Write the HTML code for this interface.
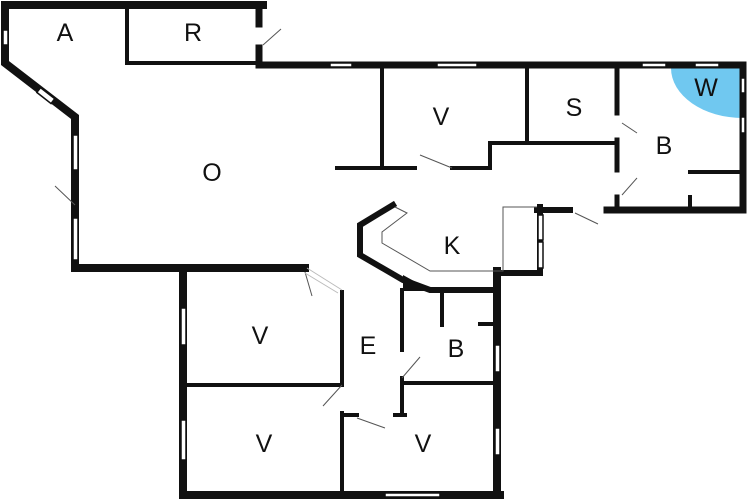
<!DOCTYPE html>
<html><head><style>body{margin:0;background:#fff}svg{display:block}text{font-family:"Liberation Sans",sans-serif;font-size:25px;fill:#111;text-anchor:middle;dominant-baseline:central}</style></head><body>
<svg width="750" height="500" viewBox="0 0 750 500">
<rect width="750" height="500" fill="#fff"/>
<path d="M743,68 L671,68 A72,50 0 0 0 743,118 Z" fill="#70c8f0"/>
<g stroke="#111" fill="none" stroke-linecap="square">
<path d="M5,5 L263,5 M5,5 L5,63 L75,117 L75,268 L305,268 M183,268 L183,495 L500,495 M497,271 L497,495" stroke-width="8"/>
<path d="M259,5 L259,24 M259,48 L259,65 L743,65 M743,65 L743,210 L607,210" stroke-width="7"/>
<path d="M127,5 L127,63 L259,63" stroke-width="4"/>
<path d="M617,68 L617,113 M617,140 L617,170 M617,197 L617,210" stroke-width="5"/>
<path d="M527,65 L527,143 L490,143 L490,168 L452,168 M415,168 L337,168 M382,65 L382,168 M490,143 L617,143" stroke-width="4"/>
<path d="M690,172 L743,172 M690,197 L690,210" stroke-width="4"/>
<path d="M393,205 L360,225 L360,255 L403,280 L430,290 L497,290" stroke-width="6"/>
<path d="M540,207 L540,273 L497,273 L497,290 M537,210 L570,210" stroke-width="6"/>
<path d="M342,292 L342,385 M342,413 L342,495 M183,385 L342,385 M342,415 L357,415 M395,415 L405,415 M402,290 L402,350 M402,378 L402,415 M402,383 L497,383 M442,290 L442,325 M480,324 L497,324" stroke-width="4"/>
</g>
<path d="M403,275 L403,291 L432,291 Z" fill="#111"/>
<g stroke="#555" stroke-width="1" fill="none">
<path d="M395,207 L407,213 L382,232 L382,243 L430,271 L503,271 L503,207 L537,207"/>
<path d="M263,45 L281,29 M75,205 L55,186 M420,155 L452,168 M622,123 L637,133 M622,195 L637,178 M575,213 L598,224 M312,296 L305,272 M342,385 L323,406 M357,418 L385,428 M402,378 L420,357"/>
</g>
<g stroke="#bbb" stroke-width="1"><path d="M307,268 L342,290 M305,273 L338,293"/></g>
<g fill="#fff" stroke="#111" stroke-width="1.5">
<rect x="3" y="30" width="5" height="15"/>
<rect x="73" y="135" width="5" height="35"/><rect x="73" y="218" width="5" height="42"/>
<rect x="181" y="308" width="5" height="37"/><rect x="181" y="420" width="5" height="40"/>
<rect x="495" y="345" width="5" height="27"/><rect x="495" y="428" width="5" height="27"/>
<rect x="538" y="215" width="5" height="25"/><rect x="538" y="242" width="5" height="26"/>
<rect x="330" y="63" width="22" height="4"/><rect x="437" y="63" width="40" height="4"/>
<rect x="642" y="63" width="24" height="4"/><rect x="695" y="63" width="24" height="4"/>
<rect x="741" y="78" width="4" height="15"/><rect x="741" y="117" width="4" height="16"/>
<rect x="385" y="493" width="55" height="4"/>
<rect x="-8" y="-3" width="18" height="6" transform="translate(45,95) rotate(38)"/>
</g>
<text x="65" y="33">A</text><text x="193" y="33">R</text><text x="212" y="173">O</text>
<text x="441" y="117">V</text><text x="574" y="108">S</text><text x="664" y="146">B</text>
<text x="706" y="88">W</text><text x="452" y="246">K</text><text x="260" y="336">V</text>
<text x="368" y="346">E</text><text x="456" y="349">B</text><text x="264" y="444">V</text><text x="423" y="444">V</text>
</svg></body></html>
